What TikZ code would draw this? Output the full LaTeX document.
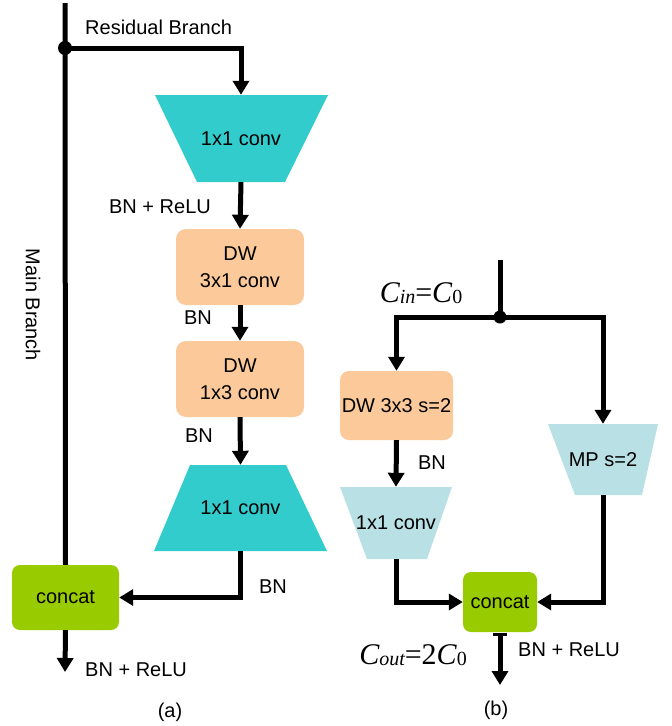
\documentclass[tikz,border=0pt]{standalone}
\usepackage{fontspec}
\setmainfont{Liberation Sans}
\newfontfamily\tms{Liberation Serif}
\usetikzlibrary{arrows.meta}
\definecolor{teal1}{HTML}{33CCCC}
\definecolor{peach}{HTML}{FBC99A}
\definecolor{lblue}{HTML}{B9E0E4}
\definecolor{lgreen}{HTML}{99CC00}
\newcommand{\bigC}{{\fontsize{30}{30}\selectfont\itshape C}}
\newcommand{\subtx}[1]{\raisebox{-1pt}{\fontsize{20}{20}\selectfont #1}}
\begin{document}
\begin{tikzpicture}[x=1pt,y=-1pt,
  every node/.style={font=\fontsize{20}{27}\selectfont, inner sep=0pt},
  arr/.style={line width=5pt, -{Triangle[length=14pt,width=16pt]}},
  ln/.style={line width=5pt},
  rbox/.style={rounded corners=10pt, align=center}
]
\useasboundingbox (0,0) rectangle (672,726);

% ---------- (a) ----------
\coordinate (top1) at (65,3);
\coordinate (j1) at (65,48);
\node[anchor=west] (lres) at (85,27) {Residual Branch};
\node[rotate=-90] (lmain) at (33,305) {Main Branch};

% trapezoid 1 (narrowing)
\fill[teal1] (155,95) -- (328,95) -- (285,182) -- (197,182) -- cycle;
\node[minimum width=173pt, minimum height=87pt] (t1) at (241,138.5) {1x1 conv};

\node[rbox, fill=peach, minimum width=128pt, minimum height=76pt] (d1) at (240,267) {DW\\3x1 conv};
\node[rbox, fill=peach, minimum width=128pt, minimum height=76pt] (d2) at (240,379) {DW\\1x3 conv};

% trapezoid 2 (widening)
\fill[teal1] (190,465) -- (286,465) -- (327,551) -- (154,551) -- cycle;
\node[minimum width=173pt, minimum height=86pt] (t2) at (240.5,508) {1x1 conv};

\node[rounded corners=8pt, fill=lgreen, minimum width=107pt, minimum height=65pt] (ca) at (65.5,597.5) {concat};
\coordinate (out1) at (65,672);

\draw[ln] (top1) -- (ca.north);
\fill (j1) circle (7pt);
\draw[arr] (j1) -| (t1.north);
\draw[arr] (t1.south) -- (d1.north);
\draw[arr] (d1.south) -- (d2.north);
\draw[arr] (d2.south) -- (t2.north);
\draw[arr] (t2.south) |- (ca.east);
\draw[arr] (ca.south) -- (out1);

\node (l1) at (160,207) {BN + ReLU};
\node (l2) at (198,318) {BN};
\node (l3) at (199,436) {BN};
\node (l4) at (273,587) {BN};
\node[anchor=west] (l5) at (85,670) {BN + ReLU};
\node (capa) at (170,712) {(a)};

% ---------- (b) ----------
\coordinate (top2) at (500,260);
\coordinate (j2) at (500,317);

\node[rbox, fill=peach, minimum width=113pt, minimum height=69pt, rounded corners=9pt] (db) at (396.5,405.5) {DW 3x3 s=2};

\fill[lblue] (340,487) -- (452,487) -- (427,559) -- (367,559) -- cycle;
\node[minimum width=112pt, minimum height=72pt] (t3) at (396,523) {1x1 conv};

\fill[lblue] (548,424) -- (658,424) -- (642,495) -- (575,495) -- cycle;
\node[minimum width=110pt, minimum height=71pt] (mp) at (603,459.5) {MP s=2};

\node[rounded corners=8pt, fill=lgreen, minimum width=74pt, minimum height=60pt] (cb) at (500,602) {concat};
\coordinate (out2) at (500,685);

\draw[ln] (top2) -- (j2);
\fill (j2) circle (6.5pt);
\draw[arr] (j2) -| (db.north);
\draw[arr] (j2) -| (mp.north);
\draw[arr] (db.south) -- (t3.north);
\draw[arr] (t3.south) |- (cb.west);
\draw[arr] (mp.south) |- (cb.east);
\draw[line width=5pt, {Bar[width=14pt,line width=3pt]}-{Triangle[length=14pt,width=16pt]}] ([yshift=-1pt]cb.south) -- (out2);

\node (l6) at (432,463) {BN};
\node[anchor=west] (l7) at (518,650) {BN + ReLU};
\node (capb) at (496,710) {(b)};

\node[font=\tms] (cin) at (421,293) {\bigC\subtx{\itshape in}{\fontsize{30}{30}\selectfont =}\bigC\subtx{0}};
\node[font=\tms] (cout) at (413,655) {\bigC\subtx{\itshape out}{\fontsize{30}{30}\selectfont =2}\bigC\subtx{0}};
\end{tikzpicture}
\end{document}
